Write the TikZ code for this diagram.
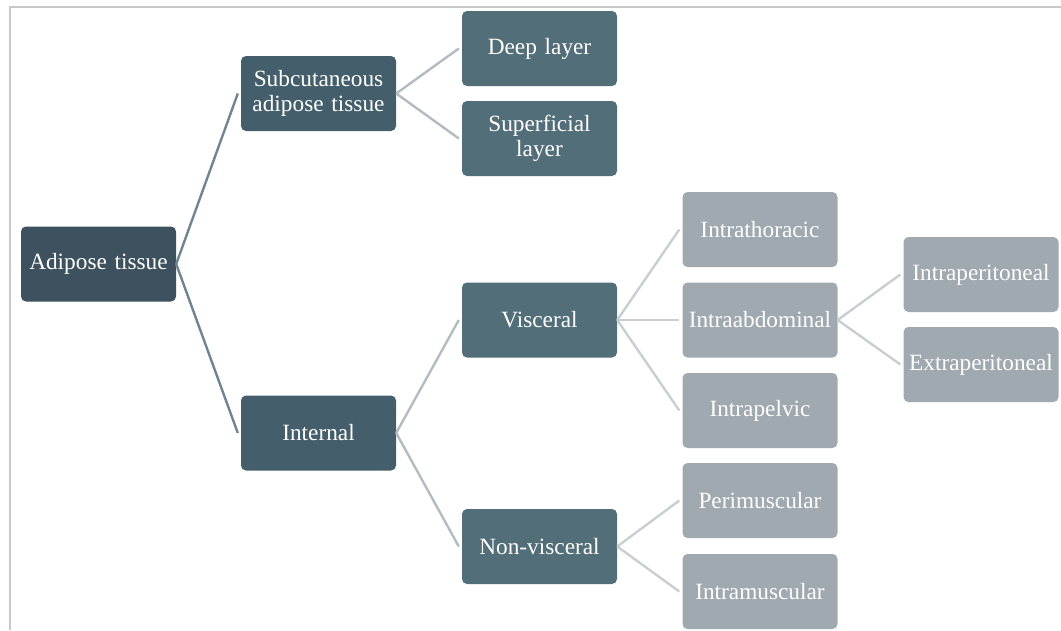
\documentclass[tikz,border=0pt]{standalone}
\usepackage{fontspec}
\setmainfont{Liberation Serif}
\definecolor{cA}{HTML}{3D525E}
\definecolor{cB}{HTML}{445F6B}
\definecolor{cC}{HTML}{526E79}
\definecolor{cD}{HTML}{A0A9AF}
\definecolor{lA}{HTML}{6F8591}
\definecolor{lB}{HTML}{B3BCC1}
\definecolor{lC}{HTML}{C9CED1}
\definecolor{frame}{HTML}{C8C8C8}
\begin{document}
\begin{tikzpicture}[x=1pt,y=-1pt,
  box/.style={rounded corners=5pt, minimum width=155pt, minimum height=75pt, text=white,
    align=center, font=\fontsize{23.3}{25}\selectfont, inner sep=2pt, text width=151pt},
  b0/.style={box, fill=cA},
  b1/.style={box, fill=cB},
  b2/.style={box, fill=cC},
  b3/.style={box, fill=cD},
  con/.style={line width=2.4pt}]
\useasboundingbox (0,0) rectangle (1061,630);
\draw[frame, line width=2pt] (10,630) coordinate (fb) -- (10,7) coordinate (fc) -- (1061,7) coordinate (fr);
\node[b0] (adi) at (98.5,264) {Adipose tissue};
\node[b1] (sub) at (318.5,93.5) {Subcutaneous\\adipose tissue};
\node[b1] (int) at (318.5,433) {Internal};
\node[b2] (deep) at (539.5,48.5) {Deep layer};
\node[b2] (sup) at (539.5,138.5) {Superficial\\layer};
\node[b2] (vis) at (539.5,320) {Visceral};
\node[b2] (non) at (539.5,546.5) {Non-visceral};
\node[b3] (ith) at (760,229.5) {Intrathoracic};
\node[b3] (iab) at (760,320) {Intraabdominal};
\node[b3] (ipe) at (760,410.5) {Intrapelvic};
\node[b3] (per) at (760,500.5) {Perimuscular};
\node[b3] (imu) at (760,591.5) {Intramuscular};
\node[b3] (ipt) at (981,274.5) {Intraperitoneal};
\node[b3] (ept) at (981,364.5) {Extraperitoneal};
\draw[con, lA] (adi.east) -- ([xshift=-3pt]sub.west);
\draw[con, lA] (adi.east) -- ([xshift=-3pt]int.west);
\draw[con, lB] (sub.east) -- ([xshift=-3pt]deep.west);
\draw[con, lB] (sub.east) -- ([xshift=-3pt]sup.west);
\draw[con, lB] (int.east) -- ([xshift=-3pt]vis.west);
\draw[con, lB] (int.east) -- ([xshift=-3pt]non.west);
\draw[con, lC] (vis.east) -- ([xshift=-3pt]ith.west);
\draw[con, lC] (vis.east) -- ([xshift=-3pt]iab.west);
\draw[con, lC] (vis.east) -- ([xshift=-3pt]ipe.west);
\draw[con, lC] (non.east) -- ([xshift=-3pt]per.west);
\draw[con, lC] (non.east) -- ([xshift=-3pt]imu.west);
\draw[con, lC] (iab.east) -- ([xshift=-3pt]ipt.west);
\draw[con, lC] (iab.east) -- ([xshift=-3pt]ept.west);
\end{tikzpicture}
\end{document}
